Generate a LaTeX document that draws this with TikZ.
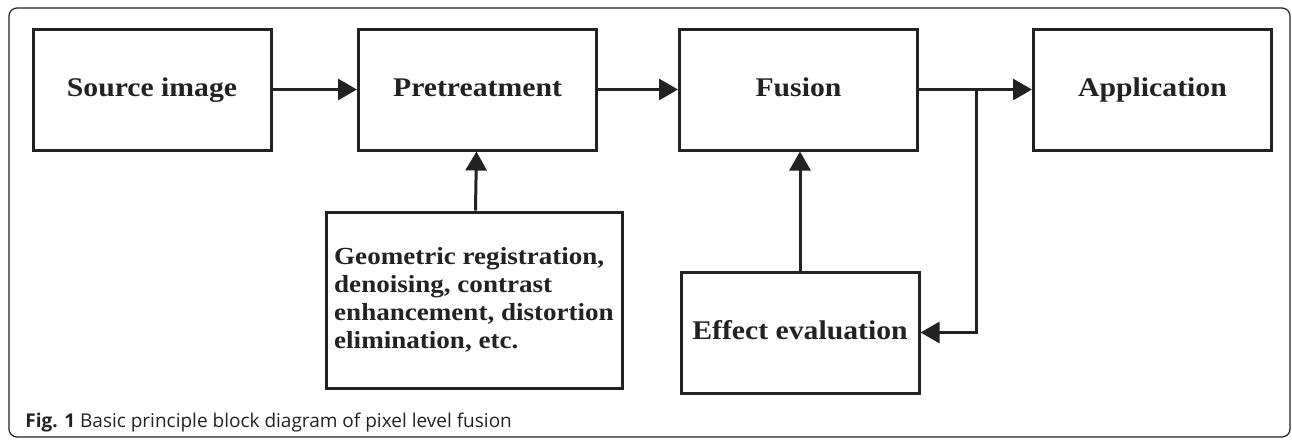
\documentclass[tikz,border=0pt]{standalone}
\usepackage{fontspec}
\setmainfont{Liberation Serif}
\newfontfamily\blockfont{Liberation Serif}[FakeStretch=1.1]
\newfontfamily\capfont{Open Sans}
\usetikzlibrary{arrows.meta}
\definecolor{ink}{HTML}{222222}

\begin{document}
\begin{tikzpicture}[x=0.5pt,y=-0.5pt,
    block/.style={draw=ink,line width=1.5pt,minimum width=119pt,minimum height=60.5pt,
      inner sep=0pt,font=\blockfont\bfseries\fontsize{13.5}{16}\selectfont,text=ink},
    oneline/.style={block,text height=9.5pt,text depth=3pt},
    flow/.style={draw=ink,line width=1.5pt,-{Triangle[length=9.5pt,width=10.5pt]}}]
        \useasboundingbox (0,0) rectangle (1292,440);
        %frame
        \draw[ink,line width=0.6pt,rounded corners=4pt] (9,8) rectangle (1290,437);

        %top row
        \node[oneline] (source) at (152,89.5) {Source image};
        \node[oneline] (pretreat) at (477.5,89.5) {Pretreatment};
        \node[oneline] (fusion) at (798.5,89.5) {Fusion};
        \node[oneline] (appl) at (1152.5,89.5) {Application};

        %lower row
        \node[block,minimum width=148pt,minimum height=88pt,align=left,
          font=\blockfont\bfseries\fontsize{12.3}{14}\selectfont] (prep) at (474,300)
          {Geometric registration,\\denoising, contrast\\enhancement, distortion\\elimination, etc.};
        \node[oneline] (evalu) at (800,332.5) {Effect evaluation};

        %connectors
        \draw[flow] (source) -- (pretreat);
        \draw[flow] (pretreat) -- (fusion);
        \draw[flow] (fusion) -- (appl);
        \coordinate (split) at (976,89.5);
        \draw[flow] (split) |- (evalu.east);
        \draw[flow] (prep) -- (pretreat);
        \draw[flow] (evalu.north) -- (evalu.north |- fusion.south);

        %caption
        \node[anchor=west,inner sep=0pt,font=\capfont\fontsize{9.5}{11}\selectfont,text=ink] (caption) at (25,423)
          {\textbf{Fig. 1} Basic principle block diagram of pixel level fusion};
\end{tikzpicture}
\end{document}
